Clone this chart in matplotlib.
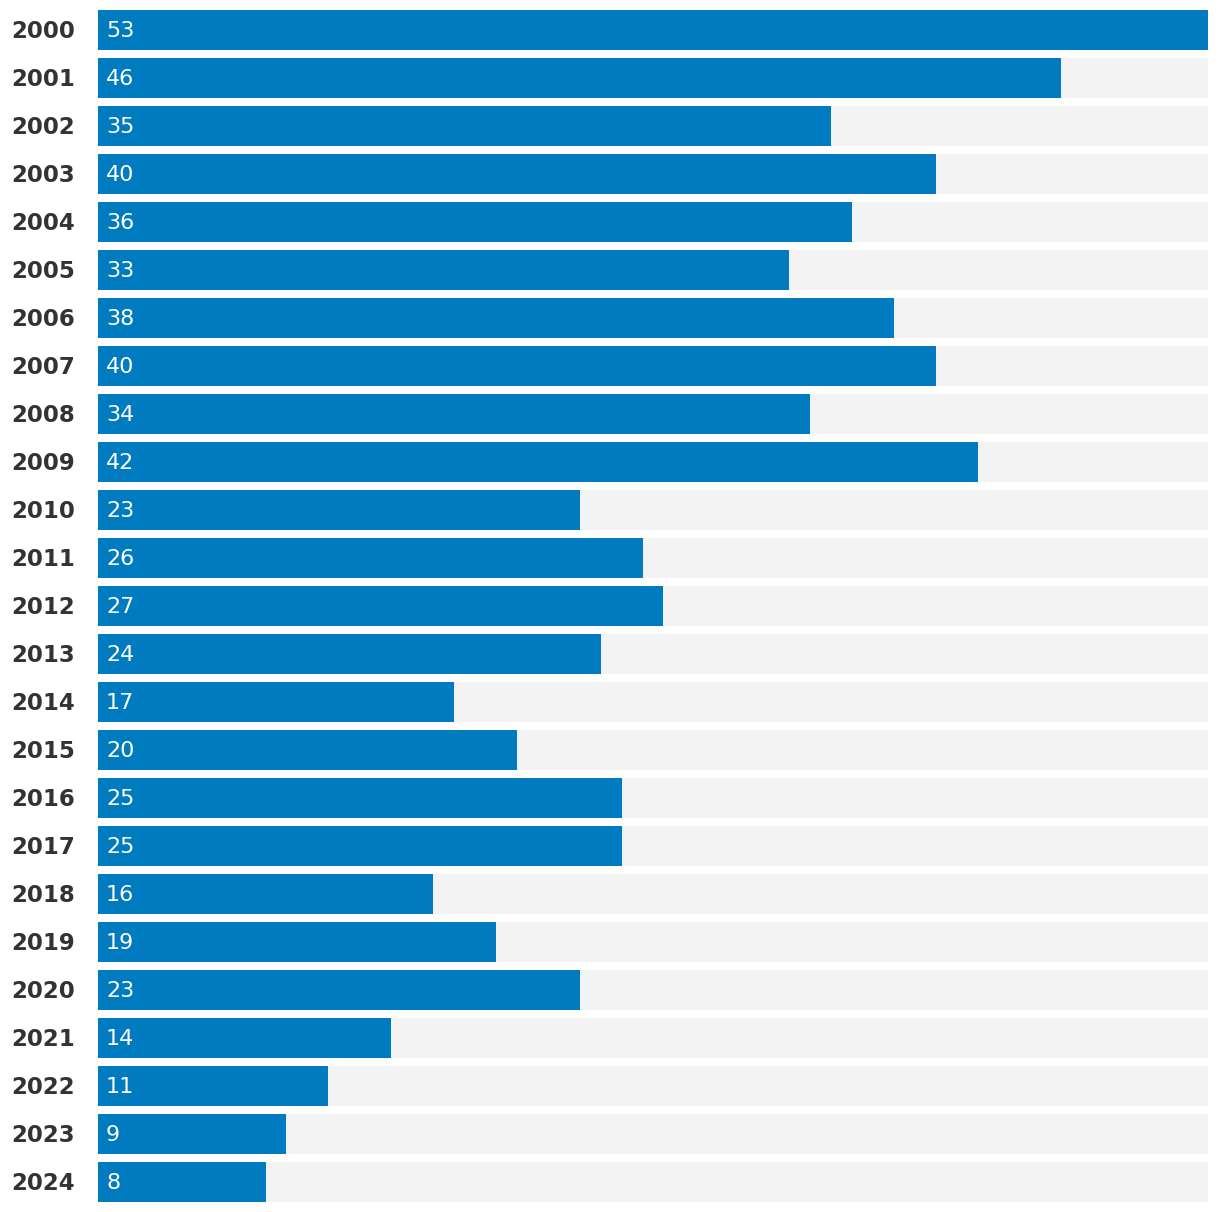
import matplotlib
matplotlib.use("Agg")
import matplotlib.pyplot as plt

years = [str(y) for y in range(2000, 2025)]
values = [53, 46, 35, 40, 36, 33, 38, 40, 34, 42, 23, 26, 27, 24, 17, 20, 25, 25, 16, 19, 23, 14, 11, 9, 8]
max_value = 53

W, H = 1220, 1212
fig = plt.figure(figsize=(W / 100, H / 100), dpi=100)
ax = fig.add_axes([98 / W, 10 / H, 1110 / W, 1192 / H])

n = len(years)
pos = list(range(n))
bh = 40 / 48
ax.barh(pos, [max_value] * n, height=bh, color="#f3f3f3", zorder=1)
ax.barh(pos, values, height=bh, color="#007bc0", zorder=2)
ax.set_xlim(0, max_value)
ax.set_ylim(n - 1 + bh / 2, -bh / 2)
ax.axis("off")

dy = -1.2 / 48
for i, (yr, v) in enumerate(zip(years, values)):
    ax.text(-87 / 1110 * max_value, i + dy, yr, ha="left", va="center_baseline",
            fontsize=16.5, fontweight="bold", color="#333333", family="DejaVu Sans")
    ax.text(8 / 1110 * max_value, i + dy, str(v), ha="left", va="center_baseline",
            fontsize=16, fontweight="normal", color="white", family="DejaVu Sans")

fig.savefig("out.png", dpi=100)
